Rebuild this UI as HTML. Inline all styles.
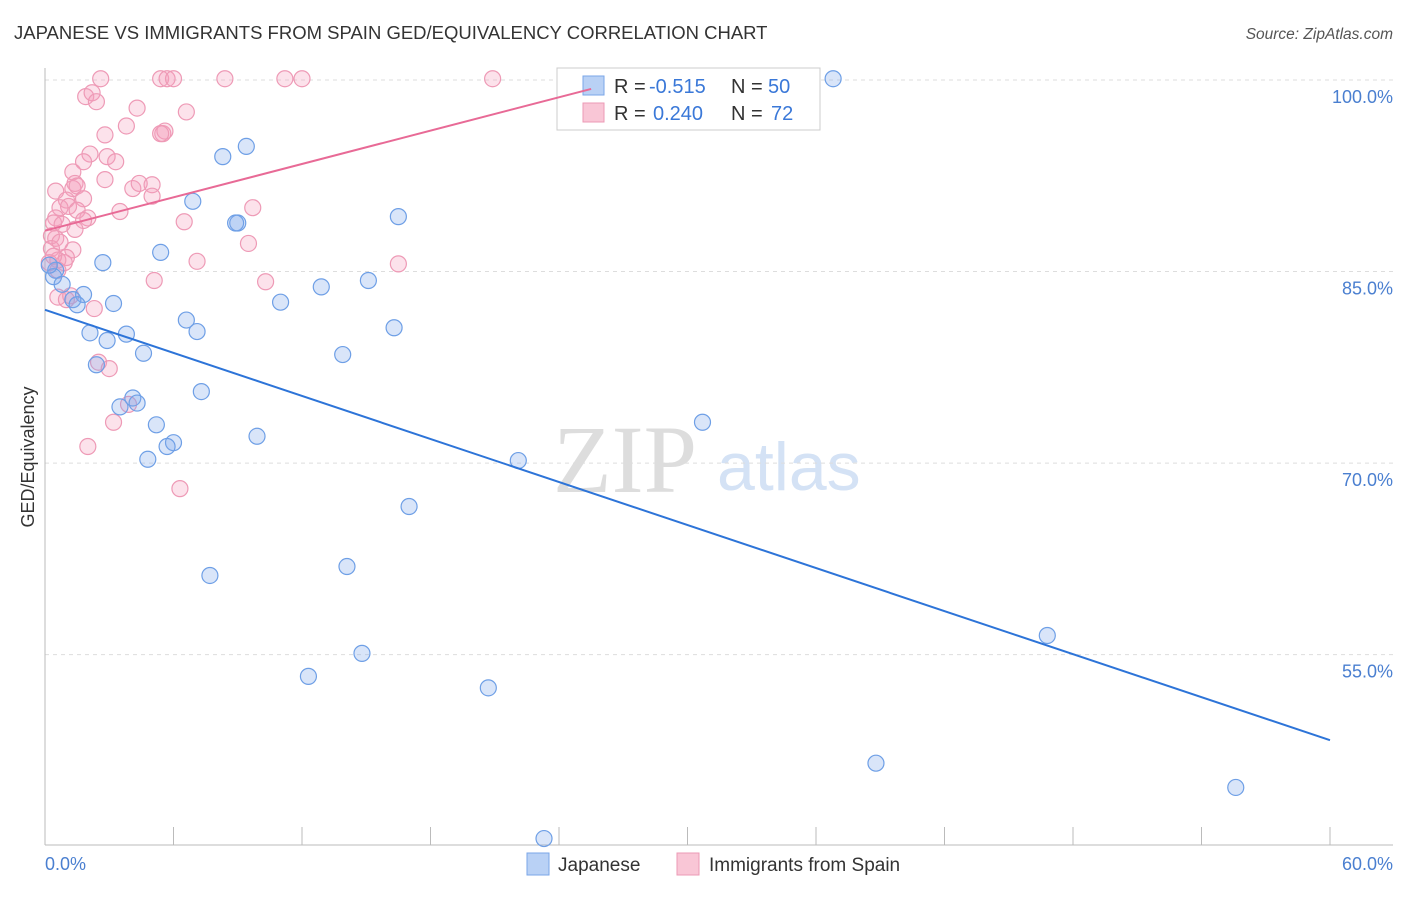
<!DOCTYPE html>
<html><head><meta charset="utf-8"><style>
body{margin:0;background:#fff;font-family:"Liberation Sans",sans-serif}
svg text{font-family:"Liberation Sans",sans-serif}
</style></head><body>
<svg width="1406" height="892" xmlns="http://www.w3.org/2000/svg">
<text x="14" y="39" font-size="18.5" fill="#333">JAPANESE VS IMMIGRANTS FROM SPAIN GED/EQUIVALENCY CORRELATION CHART</text>
<text x="1393" y="39" font-size="15.5" fill="#555" font-style="italic" text-anchor="end">Source: ZipAtlas.com</text>
<g>
<text x="553" y="492" font-size="96" fill="#ddd" font-family="Liberation Serif" style="font-family:'Liberation Serif',serif">ZIP</text>
<text x="717" y="490" font-size="68" fill="#d4e2f5">atlas</text>
</g>
<g id="grid"></g>
<g id="axes"></g>
<g id="pts"></g>
<g>
<rect x="557" y="68" width="263" height="62" fill="#fff" stroke="#ccc"/>
<rect x="583" y="76" width="21" height="19" fill="#b9d1f5" stroke="#7aa6e8"/>
<text x="614" y="93" font-size="20" fill="#333">R =</text>
<text x="649" y="93" font-size="20" fill="#3a78d8">-0.515</text>
<text x="731" y="93" font-size="20" fill="#333">N =</text>
<text x="768" y="93" font-size="20" fill="#3a78d8">50</text>
<rect x="583" y="103" width="21" height="19" fill="#f9c6d6" stroke="#ec9ab5"/>
<text x="614" y="120" font-size="20" fill="#333">R =</text>
<text x="653" y="120" font-size="20" fill="#3a78d8">0.240</text>
<text x="731" y="120" font-size="20" fill="#333">N =</text>
<text x="771" y="120" font-size="20" fill="#3a78d8">72</text>
</g>
<g id="lines"></g>
<text transform="translate(34,457) rotate(-90)" font-size="18" fill="#333" text-anchor="middle">GED/Equivalency</text>
<g>
<rect x="527" y="853" width="22" height="22" fill="#b9d1f5" stroke="#7aa6e8"/>
<text x="558" y="871" font-size="19" fill="#333">Japanese</text>
<rect x="677" y="853" width="22" height="22" fill="#f9c6d6" stroke="#ec9ab5"/>
<text x="709" y="871" font-size="19" fill="#333">Immigrants from Spain</text>
</g>
</svg>
<script>
const yTicks=[100,85,70,55];
const yTickLabels=["100.0%","85.0%","70.0%","55.0%"];
const xTickLabels=["0.0%","60.0%"];
const blueX=[36.8,9.4,8.3,6.9,16.5,9.0,8.9,5.4,2.7,0.5,0.4,0.8,15.1,12.9,1.8,1.3,1.5,3.2,11.0,6.6,7.1,16.3,2.1,3.8,2.9,4.6,13.9,2.4,7.3,4.1,4.3,3.5,5.2,6.0,5.7,9.9,4.8,30.7,22.1,17.0,7.7,14.1,46.8,14.8,12.3,20.7,38.8,55.6,23.3,0.2];
const blueY=[100.1,94.8,94.0,90.5,89.3,88.8,88.8,86.5,85.7,85.1,84.6,84.0,84.3,83.8,83.2,82.8,82.4,82.5,82.6,81.2,80.3,80.6,80.2,80.1,79.6,78.6,78.5,77.7,75.6,75.1,74.7,74.4,73.0,71.6,71.3,72.1,70.3,73.2,70.2,66.6,61.2,61.9,56.5,55.1,53.3,52.4,46.5,44.6,40.6,85.5];
const pinkX=[2.6,5.4,5.7,6.0,8.4,11.2,12.0,20.9,1.9,2.2,2.4,4.3,6.6,3.8,2.8,5.5,5.6,5.4,2.1,2.9,3.3,1.8,1.3,2.8,1.4,4.1,4.4,5.0,5.0,0.5,1.3,1.5,1.8,1.0,0.7,1.1,1.5,3.5,9.7,2.0,1.8,0.5,0.4,0.8,6.5,1.4,0.5,0.3,1.3,0.3,9.5,1.0,0.6,0.2,7.1,16.5,5.1,10.3,0.6,1.0,2.3,2.5,3.0,3.9,3.2,2.0,6.3,0.9,0.7,0.6,1.2,0.4];
const pinkY=[100.1,100.1,100.1,100.1,100.1,100.1,100.1,100.1,98.7,99.0,98.3,97.8,97.5,96.4,95.7,95.8,96.0,95.8,94.2,94.0,93.6,93.6,92.8,92.2,91.9,91.5,91.9,91.8,90.9,91.3,91.5,91.7,90.7,90.6,90.0,90.1,89.8,89.7,90.0,89.2,89.0,89.2,88.8,88.7,88.9,88.3,87.6,87.8,86.7,86.8,87.2,86.1,85.9,85.7,85.8,85.6,84.3,84.2,83.0,82.8,82.1,77.9,77.4,74.6,73.2,71.3,68.0,85.7,87.3,85.1,83.1,86.2];
const blueTrend=[[0,82.0],[60,48.3]];
const pinkTrend=[[0,88.2],[25.5,99.3]];
const X=v=>45+v/60*1285, Y=v=>80+(100-v)*12.77;
const NS="http://www.w3.org/2000/svg";
function mk(t,a,p){const e=document.createElementNS(NS,t);for(const k in a)e.setAttribute(k,a[k]);document.getElementById(p).appendChild(e);return e;}
yTicks.forEach((t,i)=>{
 const l=mk('line',{x1:45,x2:1393,y1:Y(t),y2:Y(t),stroke:'#ddd','stroke-dasharray':'4,4'},'grid');
 
 
 const tx=mk('text',{x:1393,y:Y(t)+23,'font-size':18,fill:'#4a7fd0','text-anchor':'end'},'grid');
 tx.textContent=yTickLabels[i];
 
 
});
const ax=mk('line',{x1:45,x2:1393,y1:845,y2:845,stroke:'#bbb'},'axes');


const ay=mk('line',{x1:45,x2:45,y1:68,y2:845,stroke:'#bbb'},'axes');


for(let i=0;i<=10;i++){const t=mk('line',{x1:X(i*6),x2:X(i*6),y1:827,y2:845,stroke:'#bbb'},'axes');
 
 }
xTickLabels.forEach((s,i)=>{const t=mk('text',{x:i?1393:45,y:870,'font-size':18,fill:'#4a7fd0','text-anchor':i?'end':'start'},'axes');t.textContent=s;
 
 });
pinkX.forEach((v,i)=>{const c=mk('circle',{cx:X(v),cy:Y(pinkY[i]),r:8,fill:'rgba(244,160,188,0.3)',stroke:'#ee9ab6','stroke-width':1.2},'pts');
 
 });
blueX.forEach((v,i)=>{const c=mk('circle',{cx:X(v),cy:Y(blueY[i]),r:8,fill:'rgba(130,170,235,0.3)',stroke:'#6e9fe6','stroke-width':1.2},'pts');
 
 });
const bl=mk('line',{x1:X(blueTrend[0][0]),y1:Y(blueTrend[0][1]),x2:X(blueTrend[1][0]),y2:Y(blueTrend[1][1]),stroke:'#2d74d8','stroke-width':2},'lines');


const pl=mk('line',{x1:X(pinkTrend[0][0]),y1:Y(pinkTrend[0][1]),x2:X(pinkTrend[1][0]),y2:Y(pinkTrend[1][1]),stroke:'#e86a96','stroke-width':2},'lines');


</script>
</body></html>
